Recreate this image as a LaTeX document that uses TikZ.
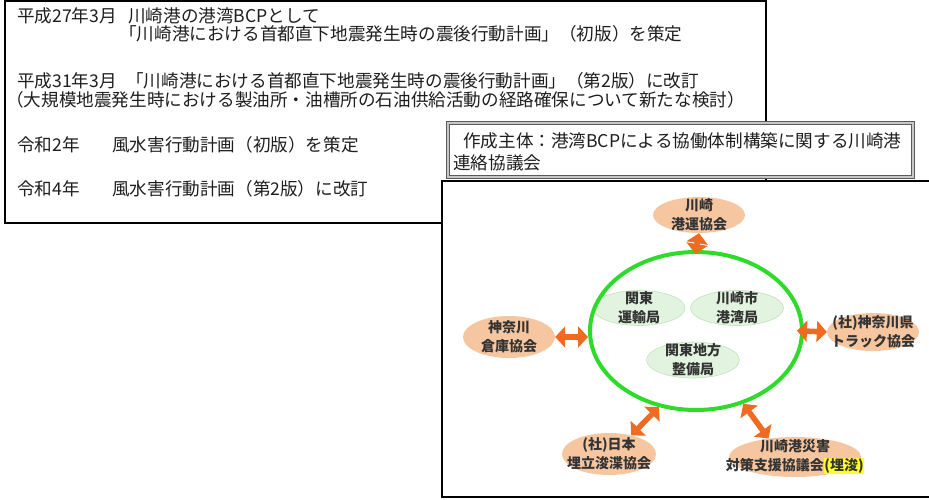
\documentclass[tikz,border=0pt]{standalone}
\usepackage{fontspec}
\setmainfont{Noto Sans CJK JP}
\usepackage{tikz}
\usetikzlibrary{arrows.meta,shapes.geometric}
\usepackage{xcolor}
\definecolor{KwText}{HTML}{1E1E1E}
\definecolor{KwLabel}{HTML}{333333}
\definecolor{KwPeach}{HTML}{F5C6A0}
\definecolor{KwMint}{HTML}{E2F4E0}
\definecolor{KwMintLine}{HTML}{BFE3BB}
\definecolor{KwGreen}{HTML}{2EDB2A}
\definecolor{KwOrange}{HTML}{EE6B21}
\definecolor{KwYellow}{HTML}{FFFF2E}
\definecolor{KwCapLine}{HTML}{5A5A5A}

\begin{document}
\begin{tikzpicture}[
  x=1pt,y=-1pt,font=\fontsize{17.6}{20}\selectfont,
  panel/.style={draw=black,line width=1.8pt,fill=white},
  capbox/.style={draw=KwCapLine,double=black!22,double distance=1.4pt,
    line width=0.9pt,fill=white},
  entry/.style={anchor=west,inner sep=0pt,text=KwText},
  member/.style={ellipse,fill=KwPeach,inner sep=0pt},
  office/.style={ellipse,fill=KwMint,draw=KwMintLine,line width=0.6pt,
    inner sep=0pt},
  tag/.style={align=center,inner sep=0pt,text=KwLabel,
    font=\fontsize{14}{19}\selectfont\bfseries},
  ring/.style={ellipse,draw=KwGreen,line width=4pt,inner sep=0pt},
  link/.style={{Triangle[length=10pt,width=21pt]}-{Triangle[length=10pt,width=21pt]},
    draw=KwOrange,line width=5.5pt}
]
\useasboundingbox (0,0) rectangle (929,499);

% History of the plan on the left; the council and its members on the right,
% both panels lying over the history box.
\draw[panel] (5,1) rectangle (766,223);
\node[entry] (d27) at (17,16) {平成27年3月};
\node[entry] (h27) at (128,16) {川崎港の港湾BCPとして};
\node[entry] (h27b) at (119,34) {「川崎港における首都直下地震発生時の震後行動計画」（初版）を策定};
\node[entry] (d31) at (17,81) {平成31年3月};
\node[entry] (h31) at (126,81) {「川崎港における首都直下地震発生時の震後行動計画」（第2版）に改訂};
\node[entry] (h31b) at (6,100) {（大規模地震発生時における製油所・油槽所の石油供給活動の経路確保について新たな検討）};
\node[entry] (dr2) at (17,145) {令和2年};
\node[entry] (hr2) at (112,145) {風水害行動計画（初版）を策定};
\node[entry] (dr4) at (17,189) {令和4年};
\node[entry] (hr4) at (112,189) {風水害行動計画（第2版）に改訂};

\draw[capbox] (448,123) rectangle (913,177);
\node[entry] (cap1) at (463,141) {作成主体：港湾BCPによる協働体制構築に関する川崎港};
\node[entry] (cap2) at (453,163) {連絡協議会};

\fill[white] (442,181) rectangle (929,497);
\draw[line width=1.8pt] (929,181) -| (442,497) -- (929,497);

\node[office,minimum width=92pt,minimum height=35pt,
  label={[tag]center:{関東\\運輸局}}] (unyu) at (639,308) {};
\node[office,minimum width=93pt,minimum height=35pt,
  label={[tag]center:{川崎市\\港湾局}}] (kowan) at (737,308) {};
\node[office,minimum width=93pt,minimum height=36pt,
  label={[tag]center:{関東地方\\整備局}}] (seibi) at (693,360) {};
\node[ring,minimum width=212pt,minimum height=158pt] (ring) at (696,331) {};

\node[member,minimum width=92pt,minimum height=36pt,
  label={[tag]center:{川崎\\港運協会}}] (unkou) at (699,215) {};
\node[member,minimum width=92pt,minimum height=42pt,
  label={[tag]center:{神奈川\\倉庫協会}}] (souko) at (509,337) {};
\node[member,minimum width=92pt,minimum height=38pt,
  label={[tag]center:{(社)神奈川県\\トラック協会}}] (truck) at (873,332) {};
\node[member,minimum width=94pt,minimum height=42pt,
  label={[tag]center:{(社)日本\\埋立浚渫協会}}] (umetate) at (609,454) {};
\node[member,minimum width=132pt,minimum height=40pt,
  label={[tag]center:{川崎港災害\\対策支援協議会{\setlength{\fboxsep}{0.5pt}\colorbox{KwYellow}{(埋浚)}}}}] (saigai) at (795,457) {};

\draw[link,shorten >=-4pt] (unkou.south) -- (ring.north);
\draw[link] (souko.east) -- (souko.east -| ring.west);
\draw[link,shorten <=-7pt] (ring.east) -- (truck.west);
\draw[link] (umetate.40) -- (ring.244);
\draw[link] (ring.303) -- (saigai.145);

\end{tikzpicture}
\end{document}
